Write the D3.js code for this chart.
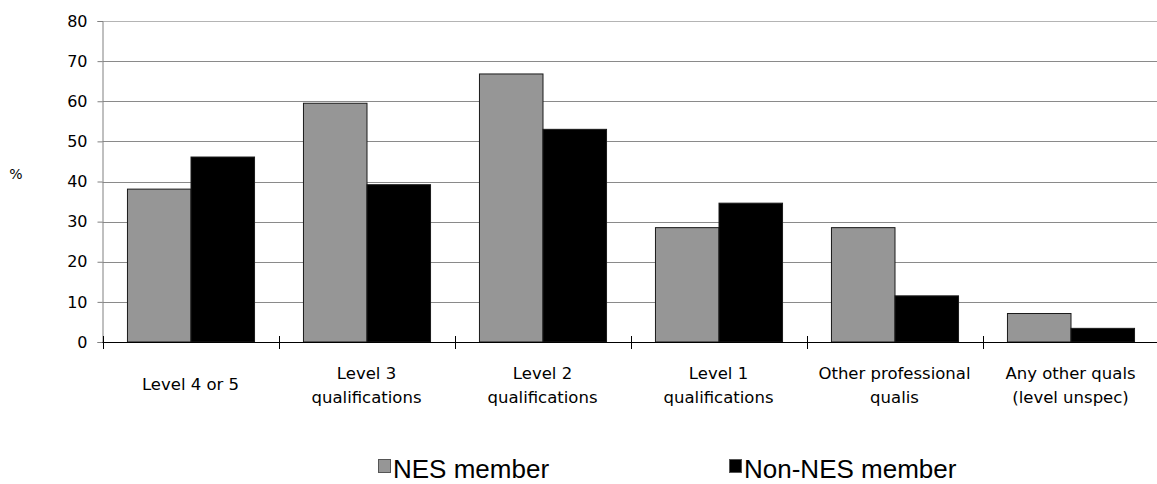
<!DOCTYPE html>
<html>
<head>
<meta charset="utf-8">
<script src="https://cdn.jsdelivr.net/npm/d3@7"></script>
<style>
  html, body { margin: 0; padding: 0; background: #fff; }
  svg { display: block; }
</style>
</head>
<body>
<svg id="chart" width="1157" height="484"></svg>
<script>
// Qualification categories (two-line labels split on "|")
const categories = [
  "Level 4 or 5",
  "Level 3|qualifications",
  "Level 2|qualifications",
  "Level 1|qualifications",
  "Other professional|qualis",
  "Any other quals|(level unspec)"
];
const seriesNames = ["NES member", "Non-NES member"];
const nesMember = [38.1, 59.5, 66.8, 28.5, 28.5, 7.1];
const nonNesMember = [46.1, 39.2, 53.0, 34.6, 11.5, 3.4];
const yTicks = [0, 10, 20, 30, 40, 50, 60, 70, 80];
const seriesColors = ["#969696", "#000000"];

const svg = d3.select("#chart");
const plotLeft = 102.5, plotRight = 1158.5, plotTop = 21, plotBottom = 342;

const x0 = d3.scaleBand()
  .domain(categories)
  .range([plotLeft, plotRight])
  .paddingInner(0.278)
  .paddingOuter(0.139);
const x1 = d3.scaleBand()
  .domain(seriesNames)
  .range([0, x0.bandwidth()]);
const y = d3.scaleLinear().domain([0, 80]).range([plotBottom, plotTop]);

const axisFont = "'DejaVu Sans', Verdana, sans-serif";

// horizontal gridlines
svg.append("g").selectAll("line")
  .data(yTicks.filter(d => d > 0))
  .join("line")
  .attr("x1", plotLeft).attr("x2", plotRight)
  .attr("y1", d => Math.round(y(d)) + 0.5).attr("y2", d => Math.round(y(d)) + 0.5)
  .attr("stroke", d => d === 80 ? "#b4b4b4" : "#8a8a8a")
  .attr("stroke-width", 1);

// y axis
const yAxis = d3.axisLeft(y).tickValues(yTicks).tickSize(5).tickPadding(10);
const gy = svg.append("g")
  .attr("transform", `translate(${plotLeft},0)`)
  .call(yAxis);
gy.select(".domain").attr("stroke", "#808080");
gy.selectAll(".tick line").attr("stroke", "#808080");
gy.selectAll(".tick text")
  .attr("font-family", axisFont)
  .attr("font-size", 16)
  .attr("fill", "#000");

// bars
const rows = categories.map((c, i) => ({ cat: c, vals: [nesMember[i], nonNesMember[i]] }));
const groups = svg.append("g").selectAll("g")
  .data(rows)
  .join("g")
  .attr("transform", d => `translate(${x0(d.cat)},0)`);
groups.selectAll("rect")
  .data(d => d.vals.map((v, k) => ({ name: seriesNames[k], v, k })))
  .join("rect")
  .attr("x", d => x1(d.name) + 0.5)
  .attr("width", x1.bandwidth())
  .attr("y", d => y(d.v))
  .attr("height", d => y(0) - y(d.v))
  .attr("fill", d => seriesColors[d.k])
  .attr("stroke", "#1a1a1a")
  .attr("stroke-width", 1);

// x axis line with crossing category separators
const step = x0.step();
const edges = d3.range(categories.length + 1).map(i => plotLeft + i * step);
svg.append("line")
  .attr("x1", plotLeft).attr("x2", plotRight)
  .attr("y1", plotBottom + 0.5).attr("y2", plotBottom + 0.5)
  .attr("stroke", "#000");
svg.append("g").selectAll("line")
  .data(edges)
  .join("line")
  .attr("x1", d => Math.round(d) + 0.5).attr("x2", d => Math.round(d) + 0.5)
  .attr("y1", plotBottom - 6).attr("y2", plotBottom + 7)
  .attr("stroke", "#000");

// category labels
const labels = svg.append("g")
  .attr("font-family", axisFont)
  .attr("font-size", 16.5)
  .attr("text-anchor", "middle")
  .attr("fill", "#000");
categories.forEach(c => {
  const lines = c.split("|");
  const cx = x0(c) + x0.bandwidth() / 2;
  const t = labels.append("text").attr("x", cx);
  if (lines.length === 1) {
    t.attr("y", 390).text(lines[0]);
  } else {
    lines.forEach((ln, i) => {
      t.append("tspan").attr("x", cx).attr("y", 379 + i * 24).text(ln);
    });
  }
});

// y axis title
svg.append("text")
  .attr("x", 16).attr("y", 179)
  .attr("text-anchor", "middle")
  .attr("font-family", axisFont)
  .attr("font-size", 14)
  .text("%");

// legend
const legendX = [378, 729];
const legend = svg.append("g");
seriesNames.forEach((name, k) => {
  legend.append("rect")
    .attr("x", legendX[k] + 0.5).attr("y", 459.5)
    .attr("width", 12).attr("height", 13)
    .attr("fill", seriesColors[k])
    .attr("stroke", "#555");
  legend.append("text")
    .attr("x", legendX[k] + 15).attr("y", 478)
    .attr("font-family", "'Liberation Sans', Arial, sans-serif")
    .attr("font-size", 26)
    .attr("fill", "#000")
    .text(name);
});
</script>
</body>
</html>
